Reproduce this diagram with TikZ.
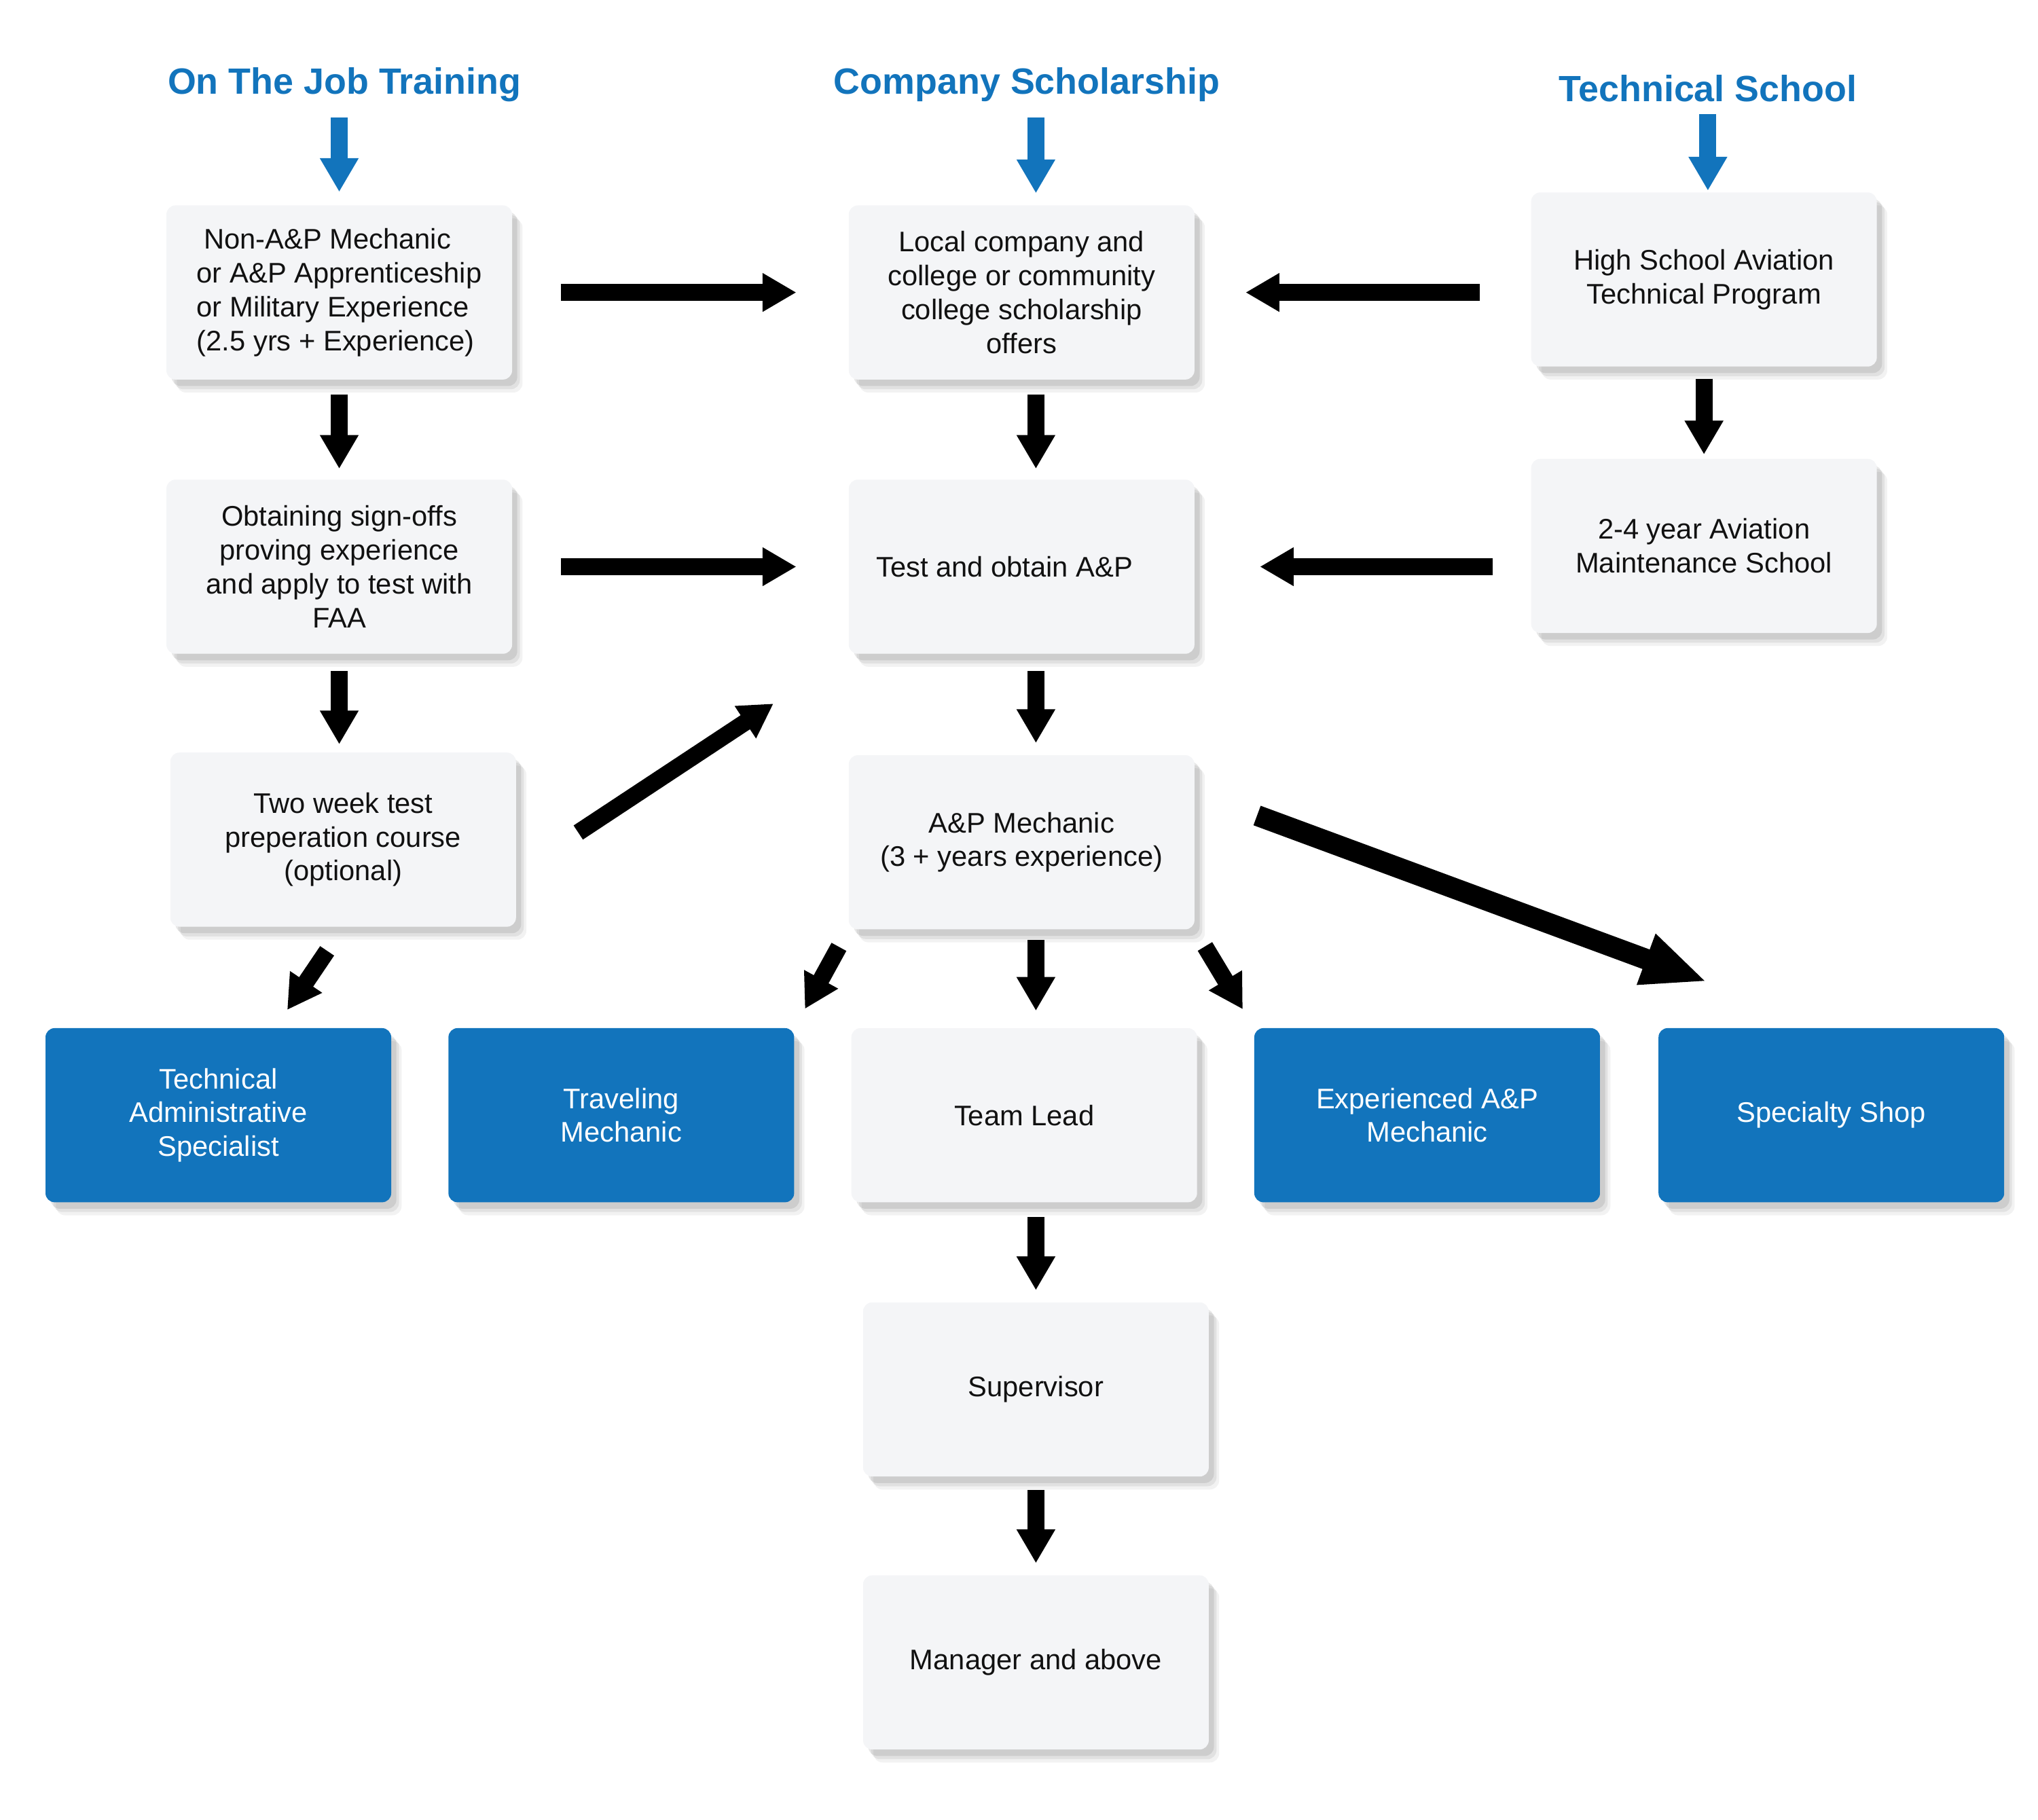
\documentclass[tikz,border=0pt]{standalone}
\usepackage{fontspec}
\setmainfont{Liberation Sans}
\usetikzlibrary{positioning, calc, arrows.meta, shadows}
\definecolor{pathblue}{RGB}{18,116,188}
\definecolor{boxgray}{RGB}{244,245,247}
\definecolor{inktext}{RGB}{17,17,17}

\begin{document}
\begin{tikzpicture}[x=0.02cm, y=-0.02cm,
    soft shadow/.style={
      drop shadow={shadow xshift=0.16cm, shadow yshift=-0.2cm, opacity=0.05, fill=black},
      drop shadow={shadow xshift=0.12cm, shadow yshift=-0.15cm, opacity=0.07, fill=black},
      drop shadow={shadow xshift=0.08cm, shadow yshift=-0.1cm, opacity=0.09, fill=black}},
    stage/.style={rounded corners=0.14cm, fill=boxgray, minimum width=5.32cm, minimum height=2.68cm,
      align=center, text=inktext, font=\fontsize{12.4}{14.8}\selectfont, soft shadow},
    career/.style={stage, fill=pathblue, text=white},
    route/.style={text=pathblue, font=\fontsize{16}{19}\selectfont\bfseries, inner sep=0pt},
    flow/.style={line width=0.26cm, -{Triangle[length=0.52cm, width=0.56cm]}},
    entry/.style={flow, pathblue},
    bigflow/.style={line width=0.32cm, -{Triangle[length=1.0cm, width=0.76cm]}}]
    \useasboundingbox (0,0) rectangle (1568,1400);

    % Routes
    \node[route] (hOTJ) at (265,65) {On The Job Training};
    \node[route] (hSch) at (790,65) {Company Scholarship};
    \node[route] (hTech) at (1314,68) {Technical School};

    % On the job column
    \node[stage, align=left] (otj1) at (261,225) {\hspace{0.25em}Non-A\&P Mechanic\\or A\&P Apprenticeship\\or Military Experience\\(2.5 yrs + Experience)};
    \node[stage] (otj2) at (261,436) {Obtaining sign-offs\\proving experience\\and apply to test with\\FAA};
    \node[stage] (otj3) at (264,646) {Two week test\\preperation course\\(optional)};

    % Scholarship column
    \node[stage] (sch1) at (786,225) {Local company and\\college or community\\college scholarship\\offers};
    \node[stage] (sch2) at (786,436) {Test and obtain A\&P\hspace{1.2em}};
    \node[stage] (mech) at (786,648) {A\&P Mechanic\\(3 + years experience)};
    \node[stage] (lead) at (788,858) {Team Lead};
    \node[stage] (super) at (797,1069) {Supervisor};
    \node[stage] (mgr) at (797,1279) {Manager and above};

    % Technical school column
    \node[stage] (tech1) at (1311,215) {High School Aviation\\Technical Program};
    \node[stage] (tech2) at (1311,420) {2-4 year Aviation\\Maintenance School};

    % Careers
    \node[career] (tas) at (168,858) {Technical\\Administrative\\Specialist};
    \node[career] (trav) at (478,858) {Traveling\\Mechanic};
    \node[career] (expd) at (1098,858) {Experienced A\&P\\Mechanic};
    \node[career] (spec) at (1409,858) {Specialty Shop};

    % entry arrows
    \draw[entry, shorten <=0.24cm, shorten >=0.2cm] (hOTJ.south -| otj1) -- (otj1.north);
    \draw[entry, shorten <=0.24cm, shorten >=0.18cm] (hSch.south -| super) -- (sch1.north -| super);
    \draw[entry, shorten <=0.18cm, shorten >=0.02cm] (hTech.south) -- (hTech.south |- tech1.north);

    % across
    \draw[flow, shorten <=0.74cm, shorten >=0.8cm] (otj1.east) -- (sch1.west);
    \draw[flow, shorten <=0.78cm, shorten >=0.78cm] (tech1.west |- sch1) -- (sch1.east);
    \draw[flow, shorten <=0.74cm, shorten >=0.8cm] (otj2.east) -- (sch2.west);
    \draw[flow, shorten <=0.58cm, shorten >=1.0cm] (tech2.west |- sch2) -- (sch2.east);
    \draw[flow, shorten <=1.14cm, shorten >=1.38cm] (otj3.-11) -- (sch2.south west);

    % down
    \draw[flow, shorten <=0.22cm, shorten >=0.16cm] (otj1.south) -- (otj2.north);
    \draw[flow, shorten <=0.26cm, shorten >=0.12cm] (otj2.south) -- (otj2.south |- otj3.north);
    \draw[flow, shorten <=0.18cm, shorten >=0.06cm] (tech1.south) -- (tech2.north);
    \draw[flow, shorten <=0.22cm, shorten >=0.16cm] (sch1.south -| super) -- (sch2.north -| super);
    \draw[flow, shorten <=0.26cm, shorten >=0.18cm] (sch2.south -| super) -- (mech.north -| super);
    \draw[flow, shorten <=0.16cm, shorten >=0.26cm] (mech.south -| super) -- (lead.north -| super);
    \draw[flow, shorten <=0.22cm, shorten >=0.18cm] (lead.south -| super) -- (super.north);
    \draw[flow, shorten <=0.2cm, shorten >=0.18cm] (super.south) -- (mgr.north);

    % to careers
    \draw[flow, shorten <=0.44cm, shorten >=0.33cm] (otj3.south) -- (tas.57);
    \draw[flow, shorten <=0.3cm, shorten >=0.33cm] (mech.south west) -- (trav.north east);
    \draw[flow, shorten <=0.3cm, shorten >=0.33cm] (mech.south east) -- (expd.north west);
    \draw[bigflow, shorten <=1.02cm, shorten >=2.04cm] (mech.16) -- (spec.north);
\end{tikzpicture}
\end{document}
